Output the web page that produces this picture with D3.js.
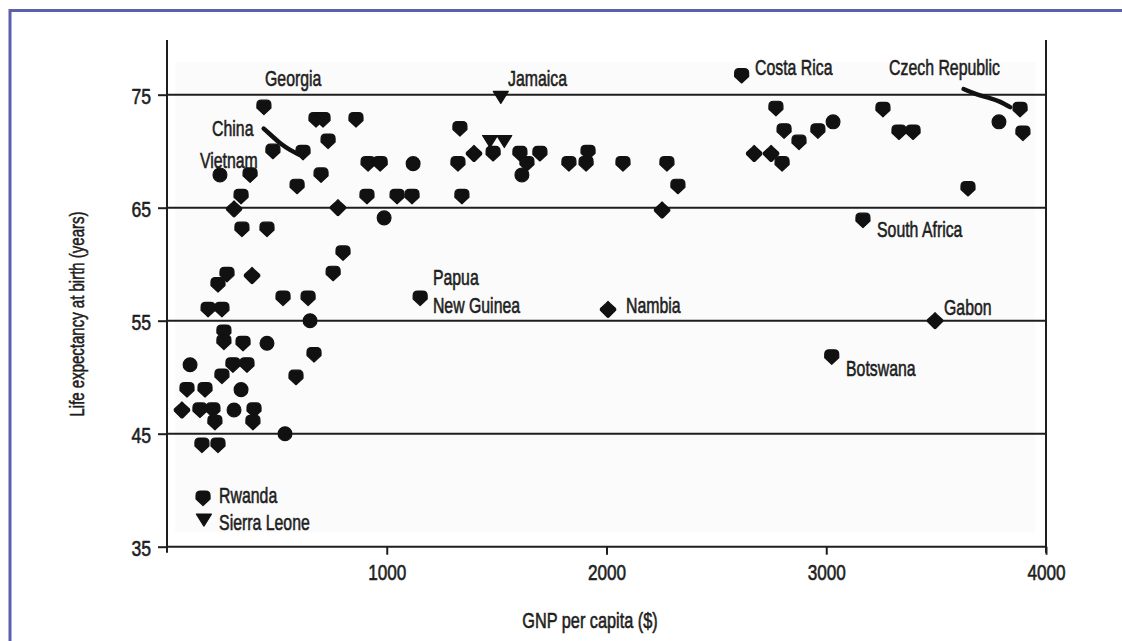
<!DOCTYPE html>
<html><head><meta charset="utf-8">
<script src="https://cdn.jsdelivr.net/npm/d3@7"></script>
<style>html,body{margin:0;padding:0;background:#fff;} svg{display:block;}</style>
</head><body>
<svg id="chart" width="1122" height="641"></svg>
<script>
// ---- data ----
const pointGnp = [441,482,619,678,710,860,733,915,970,1120,241,378,701,592,337,305,778,910,1047,1115,988,341,455,801,756,273,387,232,528,642,187,250,1152,
  651,259,259,346,455,669,105,300,364,250,587,91,173,337,68,150,209,305,396,218,391,537,159,232,164,168,
  1519,1333,1470,1535,1397,1484,1606,1697,1916,1324,1638,1829,1907,2075,2275,1615,2325,1342,2253,2007,
  2615,2771,2808,2876,2962,3031,2672,2749,2799,3167,3258,3331,3395,3645,3786,3882,3895,3495,3025];
const pointLife = [73.9,70.0,69.9,72.8,72.8,72.8,70.9,68.9,68.9,68.9,67.9,67.9,67.9,66.9,66.0,64.9,65.0,66.0,66.0,66.0,64.1,63.1,63.1,61.0,59.2,59.1,59.0,58.2,57.0,57.0,56.0,56.0,57.0,
  55.0,54.0,53.1,53.0,53.0,52.0,51.1,51.1,51.1,50.1,50.0,48.9,48.9,48.9,47.1,47.1,47.1,47.1,47.1,46.0,46.0,45.0,44.0,44.0,39.3,37.4,
  74.8,72.0,70.9,70.9,69.8,69.8,69.8,69.8,69.9,68.9,68.9,68.9,68.9,68.9,68.9,67.9,66.9,66.0,64.8,56.0,
  76.7,73.8,71.8,70.8,71.8,72.6,69.8,69.8,68.9,63.9,73.7,71.7,71.7,66.7,72.6,73.7,71.6,55.0,51.8];
const pointShape = ["s","s","s","s","s","s","s","s","s","c","c","s","s","s","s","d","d","s","s","s","c","s","s","s","s","s","d","s","s","s","s","s","s",
  "c","s","s","s","c","s","c","s","s","s","s","s","s","c","d","s","s","c","s","s","s","c","s","s","s","t",
  "t","s","t","t","d","s","s","s","s","s","s","s","s","s","s","c","s","s","d","d",
  "s","s","s","s","s","c","d","d","s","s","s","s","s","s","c","s","s","d","s"];

const chinaGnp = [440,480,520,560,600];
const chinaLife = [72.0,71.3,70.6,70.1,69.7];
const czechGnp = [3625,3686,3746,3792,3837];
const czechLife = [75.5,75.0,74.7,74.4,73.9];

const labelText = ["Georgia","China","Vietnam","Jamaica","Costa Rica","Czech Republic","South Africa","Papua","New Guinea","Nambia","Rwanda","Sierra Leone","Gabon","Botswana"];
const labelGnp  = [446,205,150,1552,2676,3286,3231,1210,1210,2089,237,237,3536,3090];
const labelLife = [75.77,71.33,68.5,75.77,76.75,76.75,62.4,58.15,55.7,55.7,38.84,36.5,55.5,50.1];

const yTicks = [35,45,55,65,75];
const xTicks = [1000,2000,3000,4000];
const gridValues = [45,55,65,75];
const xTitle = "GNP per capita ($)";
const yTitle = "Life expectancy at birth (years)";

// ---- drawing ----
const svg = d3.select('#chart');
const FONT = "'Liberation Sans', Arial, sans-serif";
const INK = "#1e1e1e";
const x = d3.scaleLinear().domain([0,4000]).range([167,1046]);
const y = d3.scaleLinear().domain([35,80]).range([546.7,38.2]);

function squeeze(sel, k){
  sel.each(function(){
    const L = this.getComputedTextLength();
    this.setAttribute('textLength', (L*k).toFixed(2));
    this.setAttribute('lengthAdjust','spacingAndGlyphs');
  });
}
function ink(sel, sw){
  sel.attr('fill',INK).attr('stroke',INK).attr('stroke-width',sw).attr('stroke-linejoin','round');
}

// frame
svg.append('path').attr('d','M10,641 L10,10.5 L1122,10.5')
  .attr('fill','none').attr('stroke','#5b5fae').attr('stroke-width',3);

// plot background
svg.append('rect').attr('x',175).attr('y',62).attr('width',860).attr('height',470).attr('fill','#fbfbfb');

// gridlines
svg.append('g').selectAll('line').data(gridValues).join('line')
  .attr('x1',x(0)).attr('x2',x(4000)).attr('y1',d=>y(d)).attr('y2',d=>y(d))
  .attr('stroke',INK).attr('stroke-width',2);

// axis frame lines
svg.append('line').attr('x1',x(0)).attr('x2',x(0)).attr('y1',40).attr('y2',y(35)+6).attr('stroke',INK).attr('stroke-width',2);
svg.append('line').attr('x1',x(4000)).attr('x2',x(4000)).attr('y1',40).attr('y2',y(35)+6).attr('stroke',INK).attr('stroke-width',2);
svg.append('line').attr('x1',x(0)).attr('x2',x(4000)).attr('y1',y(35)).attr('y2',y(35)).attr('stroke',INK).attr('stroke-width',2);

// y axis
const gy = svg.append('g').attr('transform',`translate(${x(0)},0)`)
  .call(d3.axisLeft(y).tickValues(yTicks).tickFormat(d3.format('d')).tickSize(9).tickPadding(7));
gy.select('.domain').remove();
gy.selectAll('.tick line').attr('stroke',INK).attr('stroke-width',2);
gy.selectAll('.tick text').attr('font-family',FONT).attr('font-size',22).attr('dy','0.4em')
  .call(ink,0.6).call(squeeze,0.8);

// x axis
const gx = svg.append('g').attr('transform',`translate(0,${y(35)})`)
  .call(d3.axisBottom(x).tickValues(xTicks).tickFormat(d3.format('d')).tickSize(8).tickPadding(10));
gx.select('.domain').remove();
gx.selectAll('.tick line').attr('stroke',INK).attr('stroke-width',2);
gx.selectAll('.tick text').attr('font-family',FONT).attr('font-size',22)
  .call(ink,0.6).call(squeeze,0.78);

// titles
svg.append('text').attr('x',590).attr('y',628).attr('text-anchor','middle')
  .attr('font-family',FONT).attr('font-size',22).text(xTitle).call(ink,0.6).call(squeeze,0.74);
svg.append('text').attr('transform','translate(84,314) rotate(-90)').attr('text-anchor','middle')
  .attr('font-family',FONT).attr('font-size',20).text(yTitle).call(ink,0.55).call(squeeze,0.75);

// tracks
const line = d3.line().x(d=>x(d[0])).y(d=>y(d[1])).curve(d3.curveBasis);
svg.append('path').datum(d3.zip(chinaGnp,chinaLife)).attr('d',line)
  .attr('fill','none').attr('stroke','#111').attr('stroke-width',4.5).attr('stroke-linecap','round');
svg.append('path').datum(d3.zip(czechGnp,czechLife)).attr('d',line)
  .attr('fill','none').attr('stroke','#111').attr('stroke-width',4.5).attr('stroke-linecap','round');

// markers
const circlePath = d3.symbol(d3.symbolCircle, 150)();
function markerPath(s){
  if (s==='c') return circlePath;
  if (s==='d') return "M0,-8 Q0,-8 2,-6 L7.5,-1 Q8,0 7.5,1 L1,7.5 Q0,8.5 -1,7.5 L-7.5,1 Q-8,0 -7.5,-1 L-2,-6 Q0,-8 0,-8Z";
  if (s==='t') return "M-7.5,-5.5 L7.5,-5.5 L0,6.5Z";
  return "M-7,-2.5 Q-7,-7 -2.5,-7 L2.5,-7 Q7,-7 7,-2.5 L7,1 L0,7.5 L-7,1Z";
}
const pts = d3.range(pointGnp.length).map(i=>({g:pointGnp[i], l:pointLife[i], s:pointShape[i]}));
svg.append('g').selectAll('path').data(pts).join('path')
  .attr('transform',d=>`translate(${x(d.g)},${y(d.l)})`)
  .attr('d',d=>markerPath(d.s))
  .attr('fill','#111').attr('stroke','#111').attr('stroke-width',1.2).attr('stroke-linejoin','round');

// labels
const labs = d3.range(labelText.length).map(i=>({t:labelText[i], g:labelGnp[i], l:labelLife[i]}));
svg.append('g').selectAll('text').data(labs).join('text')
  .attr('x',d=>x(d.g)).attr('y',d=>y(d.l))
  .attr('font-family',FONT).attr('font-size',22)
  .text(d=>d.t).call(ink,0.6).call(squeeze,0.72);
</script>
</body></html>
